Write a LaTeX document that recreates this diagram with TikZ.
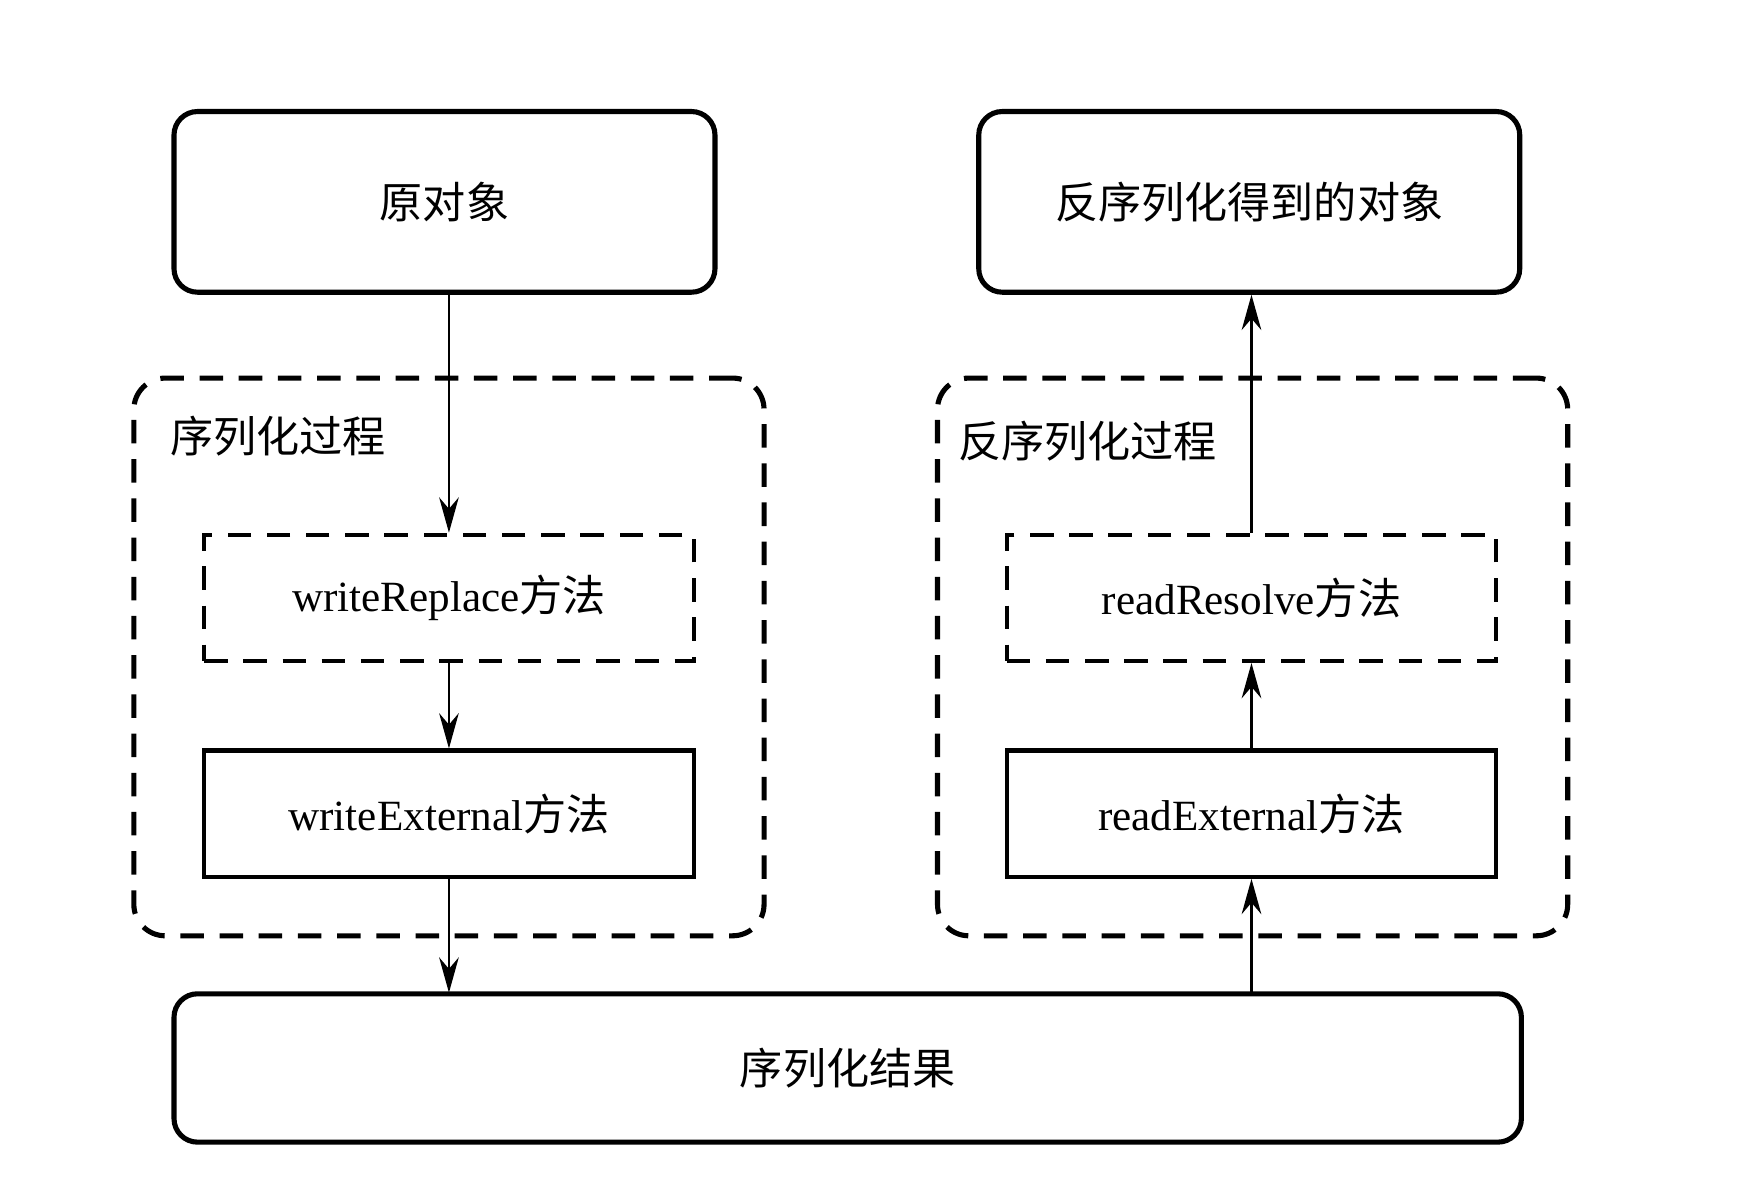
\documentclass[tikz,border=0pt]{standalone}
\usepackage{fontspec}
\setmainfont{Liberation Serif}
\newfontfamily\cjk{Noto Sans CJK SC}
\usetikzlibrary{arrows.meta,positioning}

\begin{document}
\begin{tikzpicture}[x=1cm,y=1cm,font=\fontsize{11pt}{13pt}\selectfont,
    objbox/.style={draw,line width=1.3pt,rounded corners=6pt,minimum width=4.85cm,minimum height=1.62cm},
    group/.style={draw,dashed,line width=1.3pt,dash pattern=on 6pt off 4pt,rounded corners=8pt,minimum width=5.65cm,minimum height=5.0cm},
    method/.style={draw,line width=1.1pt,minimum width=4.39cm,minimum height=1.13cm},
    flow/.style={-{Stealth[length=9pt,width=5pt]},line width=0.6pt}]
  \useasboundingbox (0,0) rectangle (15.6,10.72);
  \begin{scope}[every node/.style={inner sep=0pt}]
    \node (orig)[objbox] at (3.985,8.91) {\cjk 原对象};
    \node (deobj)[objbox] at (11.2,8.91) {\cjk 反序列化得到的对象};
    \node (ser)[group] at (4.025,4.83) {};
    \node (deser)[group] at (11.23,4.83) {};
    \node[right=0.34cm of ser.north west, anchor=north west, yshift=-0.36cm] {\cjk 序列化过程};
    \node[right=0.2cm of deser.north west, anchor=north west, yshift=-0.4cm] {\cjk 反序列化过程};
    \node (wrepl)[method,dashed,dash pattern=on 6pt off 4pt] at (4.025,5.36) {writeReplace{\cjk 方法}};
    \node (wext)[method] at (4.025,3.425) {writeExternal{\cjk 方法}};
    \node (rres)[method,dashed,dash pattern=on 6pt off 4pt] at (11.22,5.36) {readResolve{\cjk 方法}};
    \node (rext)[method] at (11.22,3.425) {readExternal{\cjk 方法}};
    \node (result)[objbox,minimum width=12.08cm,minimum height=1.33cm] at (7.6,1.145) {\cjk 序列化结果};
  \end{scope}
  \coordinate (resL) at (4.025,1.82);
  \coordinate (resR) at (11.22,1.82);
  \draw[flow] (orig.south -| wrepl.north) -- (wrepl.north);
  \draw[flow] (wrepl) -- (wext);
  \draw[flow] (wext.south) -- (resL);
  \draw[flow] (resR) -- (rext.south);
  \draw[flow] (rext) -- (rres);
  \draw[flow] (rres.north) -- (rres.north |- deobj.south);
\end{tikzpicture}
\end{document}
